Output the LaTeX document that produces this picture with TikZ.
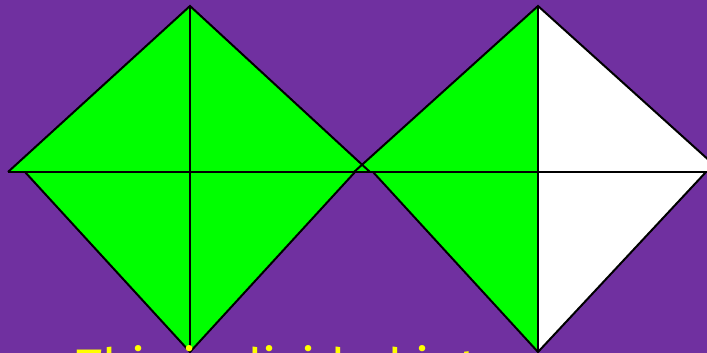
\documentclass[tikz,border=0pt]{standalone}
\usepackage{fontspec}
\setmainfont{Fira Sans}
\usepackage{tikz}
\definecolor{cBg}{RGB}{112,48,160}
\definecolor{cPart}{RGB}{0,255,0}
\definecolor{cText}{RGB}{255,255,0}
\tikzset{
	part/.style   ={fill=cPart, draw=none},
	blank/.style  ={fill=white, draw=none},
	edge/.style   ={draw=black, line width=2pt, line join=miter},
	caption/.style={font=\fontsize{50}{60}\selectfont, text=cText, inner sep=0pt, anchor=north west},
}
\begin{document}
\begin{tikzpicture}[x=1pt, y=-1pt]
	\fill[cBg] (0,0) rectangle (707,353);
	\useasboundingbox (0,0) rectangle (707,353);
	\clip (0,0) rectangle (707,353);
	% left square, all four parts shaded
	\coordinate (lt) at (190,6);   \coordinate (lb) at (190,352);
	\coordinate (lc) at (190,172);
	\coordinate (lu) at (8,172);   \coordinate (lv) at (370,172);
	\coordinate (ll) at (25,172);  \coordinate (lr) at (355,172);
	% right square, left half shaded
	\coordinate (rt) at (538,6);   \coordinate (rb) at (538,352);
	\coordinate (rc) at (538,172);
	\coordinate (ru) at (354,172); \coordinate (rv) at (722,172);
	\coordinate (rl) at (373,172); \coordinate (rr) at (706,172);
	\fill[part] (lu) -- (lt) -- (lv) -- cycle;
	\fill[part] (ll) -- (lb) -- (lr) -- cycle;
	\fill[part] (ru) -- (rt) -- (rc) -- cycle;
	\fill[part] (rl) -- (rb) -- (rc) -- cycle;
	\fill[blank] (rt) -- (rv) -- (rc) -- cycle;
	\fill[blank] (rc) -- (rr) -- (rb) -- cycle;
	\draw[edge] (lu) -- (lt) -- (lv);
	\draw[edge] (ll) -- (lb) -- (lr);
	\draw[edge] (ru) -- (rt) -- (rv);
	\draw[edge] (rl) -- (rb) -- (rr);
	\draw[edge] (lt) -- (lb);
	\draw[edge] (rt) -- (rb);
	\draw[edge] (lu) -- (rv);
	\node[caption] (note) at (76,345) {This is divided into};
\end{tikzpicture}
\end{document}
